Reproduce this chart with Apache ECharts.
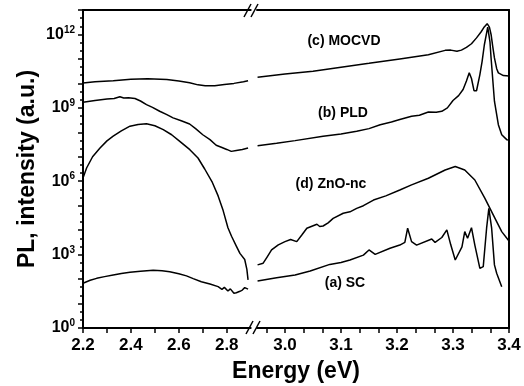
<!DOCTYPE html>
<html>
<head>
    <meta charset="utf-8">
    <script src="https://cdn.jsdelivr.net/npm/echarts@6.0.0/dist/echarts.min.js"></script>
</head>
<body style="margin:0">
    <div id="main" style="width:524px;height:386px"></div>
    <script type="text/javascript">
        // energy (eV) vs log10 of PL intensity, split at the axis break
        var scLeft = [[2.2,1.83],[2.23,1.95],[2.257,2.03],[2.29,2.1],[2.326,2.17],[2.36,2.23],[2.396,2.28],[2.44,2.32],[2.493,2.36],[2.53,2.34],[2.562,2.3],[2.6,2.22],[2.632,2.13],[2.66,2.02],[2.694,1.89],[2.73,1.8],[2.764,1.69],[2.78,1.58],[2.79,1.66],[2.805,1.51],[2.815,1.6],[2.83,1.42],[2.84,1.44],[2.855,1.5],[2.865,1.55],[2.875,1.65],[2.889,1.59]];
        var scRight = [[2.951,1.92],[2.985,2.05],[3.018,2.17],[3.045,2.33],[3.08,2.6],[3.1,2.68],[3.116,2.78],[3.14,2.98],[3.15,3.19],[3.161,3.01],[3.1875,3.26],[3.205,3.39],[3.214,3.5],[3.219,4.08],[3.226,3.53],[3.235,3.39],[3.262,3.64],[3.268,3.5],[3.28,3.7],[3.289,4.01],[3.296,3.4],[3.304,2.78],[3.316,3.32],[3.321,3.94],[3.326,3.67],[3.333,4.1],[3.339,3.39],[3.348,2.44],[3.354,2.51],[3.36,4.08],[3.364,4.89],[3.369,4.08],[3.374,2.58],[3.378,2.24],[3.381,2.17],[3.387,1.69]];

        var pldLeft = [[2.2,9.23],[2.25,9.3],[2.3,9.36],[2.33,9.38],[2.354,9.45],[2.37,9.4],[2.39,9.41],[2.417,9.38],[2.44,9.28],[2.465,9.13],[2.49,9.02],[2.52,8.86],[2.55,8.72],[2.576,8.59],[2.61,8.47],[2.645,8.34],[2.67,8.15],[2.7,7.9],[2.73,7.7],[2.756,7.47],[2.78,7.38],[2.8,7.3],[2.819,7.22],[2.84,7.26],[2.865,7.3],[2.889,7.36]];
        var pldRight = [[2.951,7.45],[2.985,7.55],[3.018,7.66],[3.068,7.84],[3.1,7.93],[3.128,8.04],[3.15,8.15],[3.17,8.31],[3.19,8.42],[3.205,8.52],[3.226,8.66],[3.24,8.7],[3.256,8.83],[3.27,8.82],[3.28,8.86],[3.29,9.0],[3.3,9.3],[3.31,9.5],[3.318,9.75],[3.324,10.1],[3.329,10.43],[3.333,10.2],[3.3375,9.7],[3.342,9.7],[3.348,10.36],[3.352,10.9],[3.356,11.58],[3.362,12.3],[3.366,11.7],[3.368,11.04],[3.374,9.27],[3.381,8.31],[3.387,7.9],[3.396,7.7],[3.4,7.69]];

        var mocvdLeft = [[2.2,10.02],[2.25,10.07],[2.326,10.11],[2.4,10.17],[2.47,10.19],[2.55,10.16],[2.6,10.1],[2.645,10.03],[2.68,9.94],[2.71,9.9],[2.75,9.9],[2.79,9.95],[2.83,10.0],[2.87,10.07],[2.889,10.11]];
        var mocvdRight = [[2.951,10.25],[3.0,10.38],[3.05,10.5],[3.1,10.66],[3.15,10.82],[3.205,11.0],[3.256,11.17],[3.286,11.35],[3.296,11.36],[3.307,11.31],[3.315,11.36],[3.324,11.47],[3.333,11.62],[3.342,11.86],[3.35,12.1],[3.355,12.28],[3.361,12.44],[3.365,12.3],[3.368,12.0],[3.371,11.5],[3.374,11.04],[3.378,10.6],[3.381,10.43],[3.39,10.32],[3.4,10.3]];

        var zncLeft = [[2.2,6.13],[2.215,6.54],[2.24,7.0],[2.271,7.36],[2.3,7.65],[2.326,7.84],[2.36,8.06],[2.396,8.25],[2.43,8.32],[2.465,8.35],[2.5,8.27],[2.535,8.11],[2.57,7.9],[2.604,7.63],[2.646,7.29],[2.68,6.95],[2.708,6.5],[2.74,5.95],[2.764,5.4],[2.785,4.8],[2.805,4.1],[2.82,3.75],[2.84,3.35],[2.855,3.05],[2.875,2.8],[2.884,2.4],[2.889,1.97]];
        var zncRight = [[2.951,2.58],[2.961,2.65],[2.968,2.9],[2.976,3.19],[2.988,3.4],[3.0,3.53],[3.01,3.62],[3.021,3.53],[3.03,3.8],[3.039,4.08],[3.057,4.24],[3.062,4.15],[3.068,4.17],[3.077,4.3],[3.086,4.48],[3.104,4.69],[3.116,4.75],[3.128,4.89],[3.14,5.0],[3.158,5.23],[3.18,5.4],[3.205,5.64],[3.226,5.85],[3.256,6.12],[3.286,6.46],[3.304,6.6],[3.321,6.46],[3.339,6.05],[3.357,5.3],[3.375,4.48],[3.387,3.94],[3.4,3.56]];

        // ticks and labels
        var leftLabels = [2.2, 2.4, 2.6, 2.8];
        var rightTicks = [2.9667, 3.0, 3.0333, 3.0667, 3.1, 3.1333, 3.1667, 3.2, 3.2333, 3.2667, 3.3, 3.3333, 3.3667, 3.4];
        var rightLabels = [3.0, 3.1, 3.2, 3.3, 3.4];
        var yLabels = [0, 3, 6, 9, 12];

        var FONT = "'Liberation Sans', Arial, sans-serif";
        var black = '#000';
        var tickStyle = { color: black, width: 1.5 };
        var labelFont = { color: black, fontFamily: FONT, fontWeight: 'bold', fontSize: 17, margin: 9 };

        var chart = echarts.init(document.getElementById('main'));

        function topAx(grid, min, max) {
            return {
                type: 'value', gridIndex: grid, min: min, max: max, position: 'top',
                axisLine: { show: true, lineStyle: { color: black, width: 2 } },
                axisTick: { show: false }, axisLabel: { show: false }, splitLine: { show: false }
            };
        }
        function line(data, xi) {
            return {
                type: 'line', data: data, xAxisIndex: xi, yAxisIndex: xi,
                showSymbol: false, symbol: 'none', silent: true,
                lineStyle: { color: black, width: 1.5 }
            };
        }

        var option = {
            animation: false,
            grid: [
                { left: 83, top: 10, width: 167.7, bottom: 58 },
                { left: 257, top: 10, right: 15, bottom: 58 }
            ],
            xAxis: [{
                type: 'value', gridIndex: 0, min: 2.2, max: 2.9, interval: 0.1, position: 'bottom',
                axisLine: { show: true, lineStyle: { color: black, width: 2 } },
                axisTick: { show: true, length: 5, lineStyle: tickStyle },
                axisLabel: Object.assign({
                    showMaxLabel: false,
                    formatter: function (v) {
                        return leftLabels.indexOf(Math.round(v * 10) / 10) >= 0 ? v.toFixed(1) : '';
                    }
                }, labelFont),
                splitLine: { show: false }
            }, {
                type: 'value', gridIndex: 1, min: 2.95, max: 3.4, position: 'bottom',
                axisLine: { show: true, lineStyle: { color: black, width: 2 } },
                axisTick: { show: true, customValues: rightTicks, length: 5, lineStyle: tickStyle },
                axisLabel: Object.assign({
                    customValues: rightLabels,
                    formatter: function (v) { return v.toFixed(1); }
                }, labelFont),
                splitLine: { show: false }
            },
                topAx(0, 2.2, 2.9),
                topAx(1, 2.95, 3.4)
            ],
            yAxis: [{
                type: 'value', gridIndex: 0, min: 0, max: 13, interval: 1,
                name: 'PL, intensity (a.u.)', nameLocation: 'middle', nameGap: 44,
                nameTextStyle: { color: black, fontFamily: FONT, fontWeight: 'bold', fontSize: 23 },
                axisLine: { show: true, lineStyle: { color: black, width: 2 } },
                axisTick: { show: true, length: 5, lineStyle: tickStyle },
                minorTick: { show: true, splitNumber: 3, length: 3, lineStyle: tickStyle },
                axisLabel: {
                    margin: 8, color: black, showMaxLabel: false,
                    formatter: function (v) {
                        return yLabels.indexOf(v) >= 0 ? '{b|10}{s|' + v + '}' : '';
                    },
                    rich: {
                        b: { fontFamily: FONT, fontWeight: 'bold', fontSize: 16, color: black },
                        s: { fontFamily: FONT, fontWeight: 'bold', fontSize: 10, color: black, padding: [0, 0, 9, 0] }
                    }
                },
                splitLine: { show: false }
            }, {
                type: 'value', gridIndex: 1, min: 0, max: 13, position: 'right',
                axisLine: { show: true, lineStyle: { color: black, width: 2 } },
                axisTick: { show: false }, axisLabel: { show: false }, splitLine: { show: false }
            }],
            series: [
                line(scLeft, 0), line(scRight, 1),
                line(pldLeft, 0), line(pldRight, 1),
                line(mocvdLeft, 0), line(mocvdRight, 1),
                line(zncLeft, 0), line(zncRight, 1)
            ],
            graphic: [
                { type: 'text', x: 296, y: 372, style: { text: 'Energy (eV)', fill: black, font: 'bold 23px ' + FONT, textAlign: 'center', textVerticalAlign: 'middle' } },
                { type: 'text', x: 344, y: 41, style: { text: '(c) MOCVD', fill: black, font: 'bold 14px ' + FONT, textAlign: 'center', textVerticalAlign: 'middle' } },
                { type: 'text', x: 343, y: 113, style: { text: '(b) PLD', fill: black, font: 'bold 14px ' + FONT, textAlign: 'center', textVerticalAlign: 'middle' } },
                { type: 'text', x: 331, y: 184, style: { text: '(d) ZnO-nc', fill: black, font: 'bold 14px ' + FONT, textAlign: 'center', textVerticalAlign: 'middle' } },
                { type: 'text', x: 345, y: 283, style: { text: '(a) SC', fill: black, font: 'bold 14px ' + FONT, textAlign: 'center', textVerticalAlign: 'middle' } },
                // break marks
                { type: 'rect', shape: { x: 247, y: 0, width: 10, height: 14 }, style: { fill: '#fff' } },
                { type: 'rect', shape: { x: 249, y: 322, width: 8, height: 14 }, style: { fill: '#fff' } },
                { type: 'line', shape: { x1: 244, y1: 17, x2: 251, y2: 4 }, style: { stroke: black, lineWidth: 1.5 } },
                { type: 'line', shape: { x1: 251, y1: 17, x2: 258, y2: 4 }, style: { stroke: black, lineWidth: 1.5 } },
                { type: 'line', shape: { x1: 246, y1: 334, x2: 253, y2: 321 }, style: { stroke: black, lineWidth: 1.5 } },
                { type: 'line', shape: { x1: 253, y1: 334, x2: 260, y2: 321 }, style: { stroke: black, lineWidth: 1.5 } }
            ]
        };

        chart.setOption(option);
    </script>
</body>
</html>
